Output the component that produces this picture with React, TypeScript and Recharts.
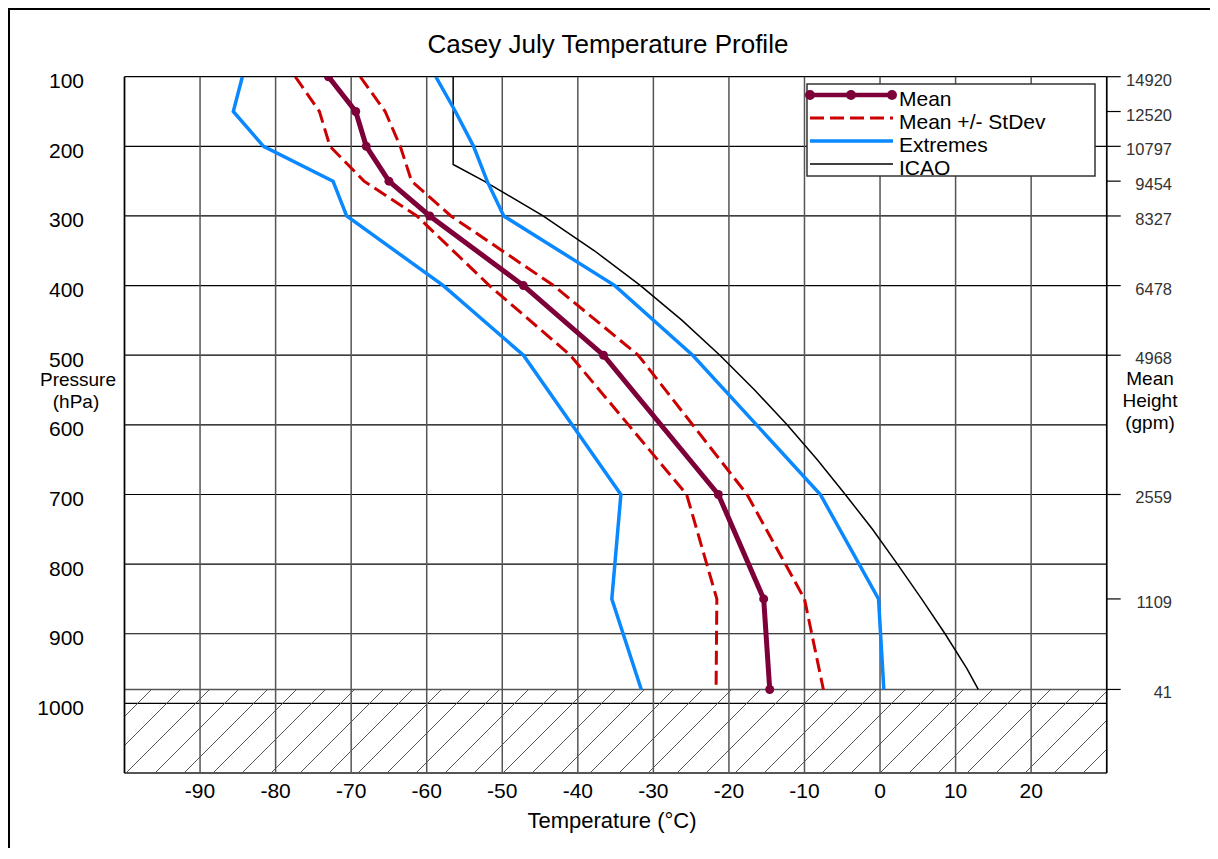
import React from 'react'
import { CartesianGrid, ReferenceArea, ReferenceLine, Scatter, ScatterChart, XAxis, YAxis } from 'recharts'

// standard levels (hPa), last one is the station surface
const levels = [100, 150, 200, 250, 300, 400, 500, 700, 850, 980]
const meanTemp = [-73.0, -69.4, -68.0, -65.0, -59.6, -47.2, -36.6, -21.4, -15.4, -14.6]
const meanMinusSd = [-77.4, -74.2, -72.8, -68.3, -61.3, -51.7, -41.0, -25.6, -21.6, -21.7]
const meanPlusSd = [-68.8, -65.5, -63.5, -62.0, -56.8, -43.2, -32.0, -17.6, -10.0, -7.5]
const extremeMin = [-84.4, -85.6, -81.6, -72.4, -70.6, -57.8, -47.2, -34.3, -35.5, -31.6]
const extremeMax = [-58.8, -56.2, -53.8, -52.0, -49.8, -35.1, -24.8, -7.9, -0.2, 0.5]

const icaoLevels = [100, 150, 200, 226, 250, 300, 350, 400, 450, 500, 550, 600, 650, 700, 750, 800, 850, 900, 950, 980]
const icaoTemp = [-56.5, -56.5, -56.5, -56.5, -52.4, -44.6, -37.8, -31.7, -26.2, -21.2, -16.6, -12.3, -8.3, -4.6, -1.0, 2.3, 5.5, 8.6, 11.5, 13.0]

const heightLabels = ['14920', '12520', '10797', '9454', '8327', '6478', '4968', '2559', '1109', '41']
const tempTicks = [-90, -80, -70, -60, -50, -40, -30, -20, -10, 0, 10, 20]
const pressureTicks = [100, 200, 300, 400, 500, 600, 700, 800, 900, 1000]
const surfaceP = 980

const FONT = "'Liberation Sans', Arial, sans-serif"
const MEAN = '#7d0039'
const SD = '#cc0000'
const EXT = '#0a88ff'

const pts = (temps: number[], press: number[]) => temps.map((t, i) => ({ t, p: press[i] }))

const noDot = () => <g />
const meanDot = (props: any) => <circle cx={props.cx} cy={props.cy} r={4.5} fill={MEAN} />

const XTick = ({ x, payload }: any) => (
  <text x={x} y={798} textAnchor="middle" fontSize={21} fontFamily={FONT} fill="#000">
    {payload.value}
  </text>
)

const LeftTick = ({ y, payload }: any) => (
  <text x={84} y={y + 11.5} textAnchor="end" fontSize={21} fontFamily={FONT} fill="#000">
    {payload.value}
  </text>
)

const RightTick = ({ y, payload }: any) => (
  <text x={1172} y={y + 9} textAnchor="end" fontSize={16.5} fontFamily={FONT} fill="#333">
    {heightLabels[levels.indexOf(payload.value)]}
  </text>
)

const legendRows = [
  { name: 'Mean', color: MEAN, width: 4.5, dash: undefined as string | undefined, dots: true },
  { name: 'Mean +/- StDev', color: SD, width: 3, dash: '14 6', dots: false },
  { name: 'Extremes', color: EXT, width: 3.5, dash: undefined, dots: false },
  { name: 'ICAO', color: '#000', width: 1.5, dash: undefined, dots: false },
]

export default function App() {
  return (
    <div
      style={{
        position: 'relative',
        width: 1210,
        height: 840,
        borderLeft: '2px solid #000',
        borderTop: '2px solid #000',
        boxSizing: 'border-box',
      }}
    >
      <div style={{ position: 'absolute', left: -10, top: -10 }}>
        <ScatterChart width={1218} height={859} margin={{ top: 76.7, right: 0, bottom: 0, left: 0 }}>
          <defs>
            <pattern id="hatch" patternUnits="userSpaceOnUse" width={29} height={29}>
              <path d="M0,29 L29,0 M-5,5 L5,-5 M24,34 L34,24" stroke="#555" strokeWidth={1} />
            </pattern>
          </defs>
          <CartesianGrid yAxisId="left" vertical={false} stroke="#000" strokeWidth={1.2} />
          <CartesianGrid yAxisId="left" horizontal={false} stroke="#555" strokeWidth={1.5} />
          <XAxis
            type="number"
            dataKey="t"
            domain={[-100, 30]}
            ticks={tempTicks}
            allowDataOverflow
            height={86}
            tickLine={false}
            axisLine={{ stroke: '#555', strokeWidth: 2 }}
            tick={<XTick />}
            interval={0}
          />
          <YAxis
            yAxisId="left"
            type="number"
            dataKey="p"
            domain={[100, 1100]}
            reversed
            ticks={pressureTicks}
            allowDataOverflow
            width={124.5}
            tickLine={false}
            axisLine={{ stroke: '#000', strokeWidth: 1.5 }}
            tick={<LeftTick />}
            interval={0}
          />
          <YAxis
            yAxisId="right"
            orientation="right"
            type="number"
            dataKey="p"
            domain={[100, 1100]}
            reversed
            ticks={levels}
            allowDataOverflow
            width={111.3}
            tickSize={14}
            tickLine={{ stroke: '#000', strokeWidth: 1.2 }}
            axisLine={{ stroke: '#000', strokeWidth: 1.5 }}
            tick={<RightTick />}
            interval={0}
          />
          <ReferenceArea yAxisId="left" y1={surfaceP} y2={1100} fill="url(#hatch)" fillOpacity={1} stroke="none" />
          <ReferenceLine yAxisId="left" y={surfaceP} stroke="#555" strokeWidth={1.5} />
          <Scatter
            yAxisId="left"
            data={pts(icaoTemp, icaoLevels)}
            line={{ stroke: '#000', strokeWidth: 1.5 }}
            shape={noDot}
            isAnimationActive={false}
          />
          <Scatter
            yAxisId="left"
            data={pts(extremeMin, levels)}
            line={{ stroke: EXT, strokeWidth: 3.5 }}
            shape={noDot}
            isAnimationActive={false}
          />
          <Scatter
            yAxisId="left"
            data={pts(extremeMax, levels)}
            line={{ stroke: EXT, strokeWidth: 3.5 }}
            shape={noDot}
            isAnimationActive={false}
          />
          <Scatter
            yAxisId="left"
            data={pts(meanMinusSd, levels)}
            line={{ stroke: SD, strokeWidth: 3, strokeDasharray: '14 6' }}
            shape={noDot}
            isAnimationActive={false}
          />
          <Scatter
            yAxisId="left"
            data={pts(meanPlusSd, levels)}
            line={{ stroke: SD, strokeWidth: 3, strokeDasharray: '14 6' }}
            shape={noDot}
            isAnimationActive={false}
          />
          <Scatter
            yAxisId="left"
            data={pts(meanTemp, levels)}
            line={{ stroke: MEAN, strokeWidth: 5 }}
            shape={meanDot}
            isAnimationActive={false}
          />
        </ScatterChart>
      </div>

      {/* titles and legend */}
      <svg
        width={1218}
        height={859}
        style={{ position: 'absolute', left: -10, top: -10, pointerEvents: 'none' }}
        fontFamily={FONT}
      >
        <text x={608} y={53} textAnchor="middle" fontSize={26}>
          Casey July Temperature Profile
        </text>
        <text x={612} y={828} textAnchor="middle" fontSize={22}>
          Temperature (°C)
        </text>
        <text x={78} y={386} textAnchor="middle" fontSize={19}>
          Pressure
        </text>
        <text x={76} y={408} textAnchor="middle" fontSize={19}>
          (hPa)
        </text>
        <text x={1150} y={385} textAnchor="middle" fontSize={19}>
          Mean
        </text>
        <text x={1150} y={407} textAnchor="middle" fontSize={19}>
          Height
        </text>
        <text x={1150} y={429} textAnchor="middle" fontSize={19}>
          (gpm)
        </text>

        <defs>
          <clipPath id="legclip">
            <rect x={807} y={84} width={288} height={92} />
          </clipPath>
        </defs>
        <rect x={807} y={84} width={288} height={92} fill="#fff" stroke="#333" strokeWidth={1.5} />
        {legendRows.map((r, i) => {
          const ly = 95 + i * 23
          return (
            <g key={r.name}>
              <line
                x1={i === 0 ? 806 : 810}
                x2={893}
                y1={ly}
                y2={ly}
                stroke={r.color}
                strokeWidth={r.width}
                strokeDasharray={r.dash}
              />
              {r.dots &&
                [810, 851, 892].map((cx) => <circle key={cx} cx={cx} cy={ly} r={5} fill={r.color} />)}
              <text x={899} y={ly + 11} fontSize={21} clipPath="url(#legclip)">
                {r.name}
              </text>
            </g>
          )
        })}
      </svg>
    </div>
  )
}
